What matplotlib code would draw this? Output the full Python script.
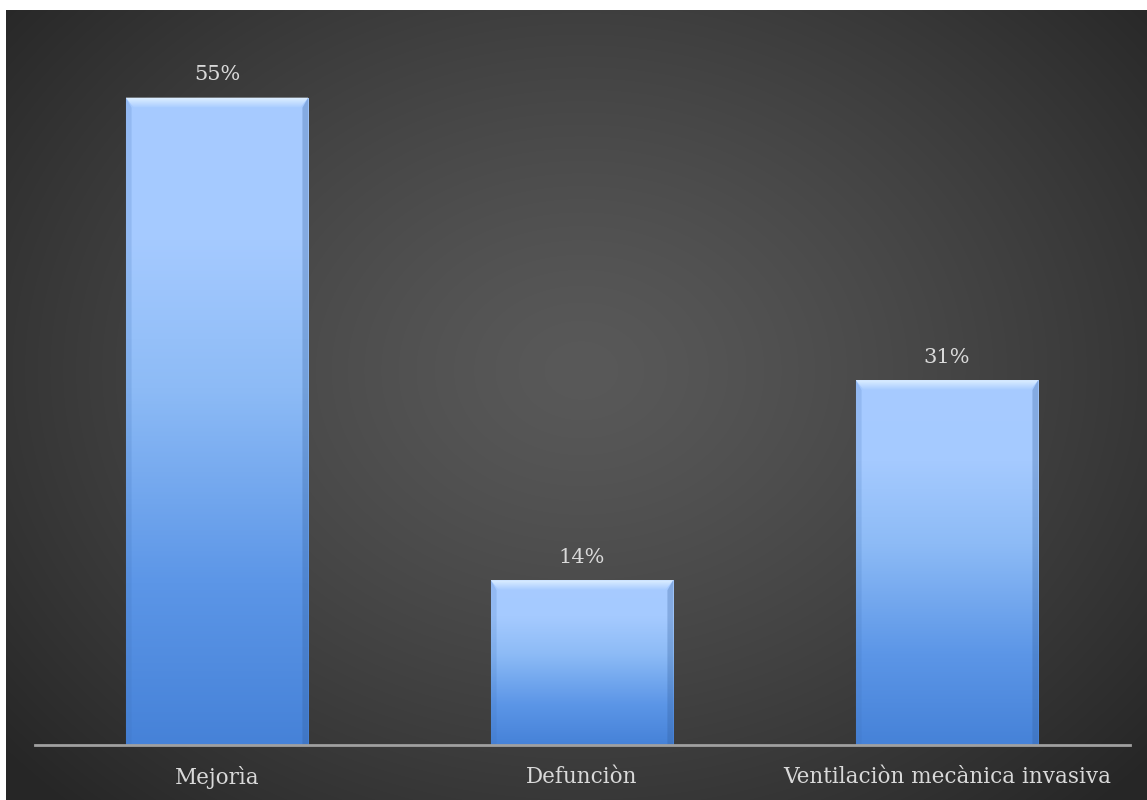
import numpy as np
import matplotlib
matplotlib.use("Agg")
import matplotlib.pyplot as plt
from matplotlib.colors import LinearSegmentedColormap

categories = ["Mejorìa", "Defunciòn", "Ventilaciòn mecànica invasiva"]
values = [55, 14, 31]
value_labels = ["55%", "14%", "31%"]

W, H = 1147, 800
fig = plt.figure(figsize=(W / 100, H / 100), dpi=100, facecolor="white")

# background panel with radial gradient
bg = fig.add_axes([6 / W, 0, (W - 6) / W, (H - 10) / H])
bg.set_axis_off()
yy, xx = np.mgrid[0:790, 0:1141]
cx, cy = 575, 360
r = np.sqrt(((xx - cx) / 760.0) ** 2 + ((yy - cy) / 600.0) ** 2)
r = np.clip(r, 0, 1)
c0, c1 = 0x59 / 255, 0x26 / 255
img = c0 + (c1 - c0) * r ** 1.3
bg.imshow(np.dstack([img, img, img]), aspect="auto", extent=[0, 1, 0, 1], origin="upper")
bg.set_xlim(0, 1)
bg.set_ylim(0, 1)

# main axes
x0, x1 = 34.5, 1129.5
ybase = 745
scale = 11.77
ymax = 60
top_px = ybase - ymax * scale
ax = fig.add_axes([x0 / W, (H - ybase) / H, (x1 - x0) / W, (ybase - top_px) / H])
ax.patch.set_alpha(0)
ax.set_xlim(-0.5, 2.5)
ax.set_ylim(0, ymax)
for s in ["top", "right", "left"]:
    ax.spines[s].set_visible(False)
ax.spines["bottom"].set_color("#a0a0a0")
ax.spines["bottom"].set_linewidth(2)
ax.spines["bottom"].set_zorder(5)
ax.set_yticks([])

cmap = LinearSegmentedColormap.from_list(
    "bar", [(0, "#4682d8"), (0.25, "#5c96e7"), (0.55, "#8dbbf6"), (0.78, "#a5caff"), (1, "#a7cbff")])
bevel_cmap = LinearSegmentedColormap.from_list("bev", [(0, "#a7cbff"), (1, "#e2f2ff")])
xs = np.arange(len(categories))
bars = ax.bar(xs, values, width=0.5, color="none", edgecolor="none")
grad = np.linspace(0, 1, 256).reshape(-1, 1)
for b, v in zip(bars, values):
    bx = b.get_x()
    bw = b.get_width()
    im = ax.imshow(grad, cmap=cmap, aspect="auto", origin="lower",
                   extent=[bx, bx + bw, 0, v], zorder=2)
    im.set_clip_path(b)
    # bevel: top highlight, side shading
    bev_h = 0.85
    tri = plt.Polygon([[bx, v], [bx + bw, v], [bx + bw - 0.022, v - bev_h], [bx + 0.022, v - bev_h]],
                      closed=True, facecolor="none", edgecolor="none", transform=ax.transData)
    ax.add_patch(tri)
    imb = ax.imshow(grad, cmap=bevel_cmap, aspect="auto", origin="lower",
                    extent=[bx, bx + bw, v - bev_h, v], zorder=3)
    imb.set_clip_path(tri)
    ax.fill([bx, bx + 0.016, bx + 0.016, bx],
            [0, 0, v - bev_h, v], color="#3d70b8", alpha=0.18, zorder=3, lw=0)
    ax.fill([bx + bw, bx + bw - 0.016, bx + bw - 0.016, bx + bw],
            [0, 0, v - bev_h, v], color="#2f5a96", alpha=0.28, zorder=3, lw=0)

for xi, v, lab in zip(xs, values, value_labels):
    ax.text(xi, v + 1.95, lab, ha="center", va="center", color="#d9d9d9",
            fontsize=15, family="DejaVu Serif")

ax.set_xticks(xs)
ax.set_xticklabels(categories, fontsize=15.5, family="DejaVu Serif", color="#d9d9d9")
ax.tick_params(axis="x", length=0, pad=15)

fig.savefig("out.png", dpi=100, facecolor="white")
